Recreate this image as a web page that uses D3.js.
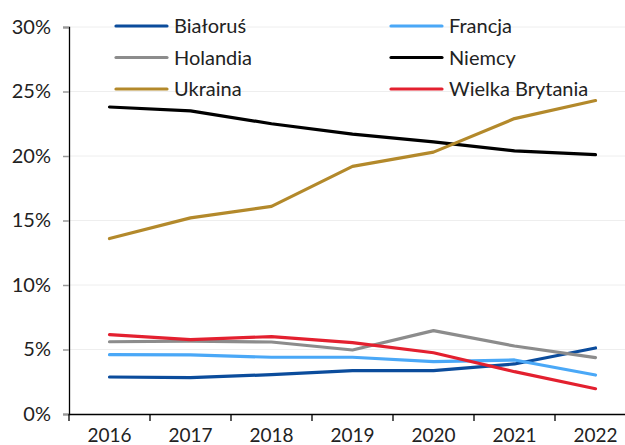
<!DOCTYPE html>
<html><head><meta charset="utf-8">
<script src="https://cdn.jsdelivr.net/npm/d3@7"></script>
<style>
html,body{margin:0;padding:0;background:#fff;overflow:hidden}
svg{display:block;font-family:Lato,"Open Sans",sans-serif}
</style></head>
<body><svg id="c" width="625" height="445"></svg>
<script>
const years = ["2016","2017","2018","2019","2020","2021","2022"];
const yTicks = [0,5,10,15,20,25,30];
const seriesNames = ["Białoruś","Francja","Holandia","Niemcy","Ukraina","Wielka Brytania"];
const bialorus = [2.87,2.82,3.05,3.36,3.36,3.88,5.12];
const francja  = [4.6,4.58,4.4,4.4,4.06,4.19,3.02];
const holandia = [5.6,5.65,5.58,4.96,6.46,5.27,4.37];
const niemcy   = [23.8,23.5,22.5,21.7,21.1,20.4,20.1];
const ukraina  = [13.6,15.2,16.1,19.2,20.3,22.9,24.3];
const wb       = [6.15,5.76,6.0,5.53,4.75,3.28,1.96];
const colors = ["#0b4c9c","#4aa8f7","#8c8c8c","#000000","#b3892b","#e3202f"];
const values = [bialorus,francja,holandia,niemcy,ukraina,wb];

(function(){
const svg = d3.select("#c");
const mL = 69, mR = 636, mT = 27, mB = 414;
const x = d3.scaleBand().domain(years).range([mL,mR]);
const y = d3.scaleLinear().domain([0,30]).range([mB,mT]);

// gridlines
svg.append("g").selectAll("line").data(yTicks.filter(d=>d>0)).join("line")
  .attr("x1",mL).attr("x2",625).attr("y1",d=>y(d)).attr("y2",d=>y(d))
  .attr("stroke","#eeeeee").attr("stroke-width",1);

// y axis
const ya = svg.append("g").attr("transform",`translate(${mL},0)`)
  .call(d3.axisLeft(y).tickValues(yTicks).tickFormat(d=>d+"%").tickSize(6).tickPadding(12));
ya.select(".domain").attr("stroke","#000").attr("stroke-width",1.3);
ya.selectAll(".tick line").attr("stroke","#999").attr("stroke-width",1.5);
ya.selectAll(".tick text").attr("font-size",20).attr("fill","#222").attr("font-family","Lato,sans-serif");

// x axis
const xa = svg.append("g").attr("transform",`translate(0,${mB})`)
  .call(d3.axisBottom(x).tickSize(0).tickPadding(15));
xa.select(".domain").attr("stroke","#000").attr("stroke-width",1.3);
xa.selectAll(".tick text").attr("font-size",19).attr("fill","#222").attr("font-family","Lato,sans-serif");
const bounds = years.map(d=>x(d)).concat([mR]);
svg.append("g").selectAll("line").data(bounds).join("line")
  .attr("x1",d=>d).attr("x2",d=>d).attr("y1",mB).attr("y2",mB+7)
  .attr("stroke","#000").attr("stroke-width",1.3);

// lines
const line = d3.line().x((d,i)=>x(years[i])+x.bandwidth()/2).y(d=>y(d)).curve(d3.curveLinear);
svg.append("g").selectAll("path").data(values).join("path")
  .attr("d",d=>line(d)).attr("fill","none")
  .attr("stroke",(d,i)=>colors[i]).attr("stroke-width",3.2)
  .attr("stroke-linecap","round").attr("stroke-linejoin","round");

// legend
const lg = svg.append("g");
seriesNames.forEach((n,i)=>{
  const col = i%2, row = Math.floor(i/2);
  const lx = col===0 ? 116 : 391;
  const ly = 26 + row*31.5;
  lg.append("line").attr("x1",lx).attr("x2",lx+51).attr("y1",ly).attr("y2",ly)
    .attr("stroke",colors[i]).attr("stroke-width",3.2).attr("stroke-linecap","round");
  lg.append("text").attr("x",lx+58).attr("y",ly+7).attr("font-size",20)
    .attr("fill","#222").text(n);
});
})();
</script></body></html>
